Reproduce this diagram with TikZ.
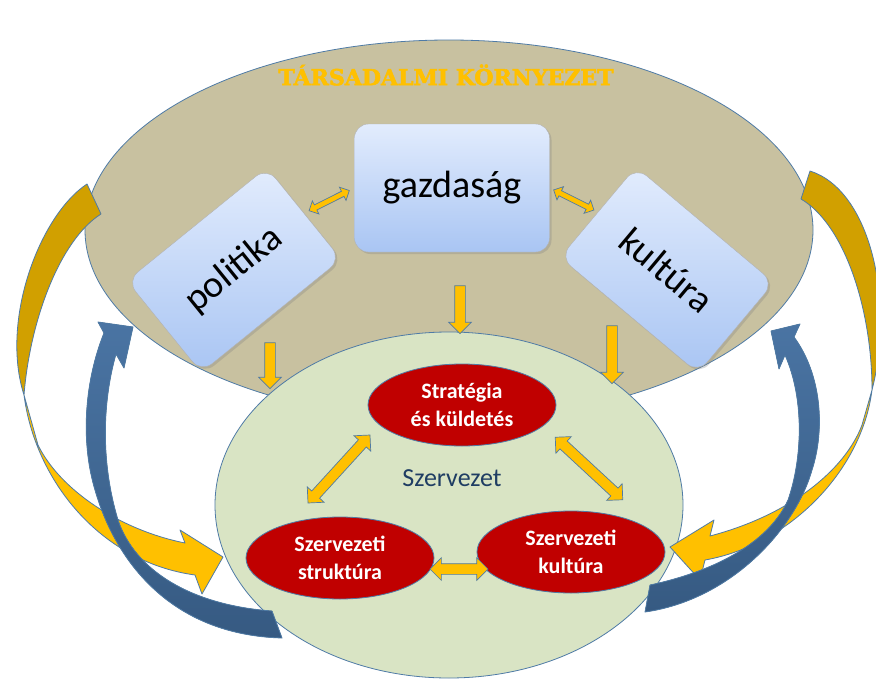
\documentclass[tikz,border=0pt]{standalone}
\usepackage{fontspec}
\setmainfont{Carlito}
\newfontfamily\titlefont{DejaVu Serif}[BoldFeatures={FakeBold=2.5}]
\usetikzlibrary{shapes.geometric,shapes.arrows,shadows}
\definecolor{envfill}{HTML}{C8C1A0}
\definecolor{orgfill}{HTML}{D9E4C4}
\definecolor{edgeblue}{HTML}{4F7BA6}
\definecolor{boxtop}{HTML}{E2ECFD}
\definecolor{boxbot}{HTML}{A9C5F3}
\definecolor{arrowyellow}{HTML}{FFC000}
\definecolor{darkgold}{HTML}{D1A000}
\definecolor{redfill}{HTML}{C00000}
\definecolor{blueA}{HTML}{4A74A3}
\definecolor{blueB}{HTML}{365A82}
\definecolor{orgtext}{HTML}{1F3D63}
\begin{document}
\begin{tikzpicture}[x=1pt,y=-1pt,
  envbox/.style={draw=gray!60, rounded corners=14pt, top color=boxtop, bottom color=boxbot,
    font=\fontsize{38}{38}\selectfont, inner sep=0pt,
    drop shadow={opacity=0.3, shadow xshift=2pt, shadow yshift=-2pt}},
  redell/.style={ellipse, draw=edgeblue, line width=0.8pt, fill=redfill, text=white,
    font=\bfseries\fontsize{22}{28}\selectfont, align=center,
    minimum width=188pt, minimum height=82pt, inner sep=0pt},
  dblarrow/.style={double arrow, draw=edgeblue, line width=0.7pt, fill=arrowyellow,
    inner xsep=0pt, minimum height=#1, sloped, allow upside down},
  bigdbl/.style={dblarrow=#1, inner ysep=5pt, double arrow head extend=6pt},
  smalldbl/.style={dblarrow=#1, inner ysep=2.5pt, double arrow head extend=4.5pt},
  downarr/.style={single arrow, draw=edgeblue, line width=0.7pt, fill=arrowyellow,
    inner xsep=0pt, inner ysep=5pt, single arrow head extend=6pt,
    minimum height=#1, sloped, allow upside down},
  bandline/.style={draw=edgeblue, line width=0.8pt, line join=round}
]
\useasboundingbox (0,0) rectangle (876,680);
\fill[white] (0,0) rectangle (876,680);

% environment ellipse
\node[ellipse, draw=edgeblue, line width=0.8pt, fill=envfill, minimum width=728pt,
  minimum height=380pt, inner sep=0pt] (env) at (449,230) {};
\node[text=arrowyellow, font=\titlefont\bfseries\fontsize{22}{22}\selectfont] (title)
  at (446,75) {TÁRSADALMI KÖRNYEZET};

% organisation ellipse
\node[ellipse, draw=edgeblue, line width=0.8pt, fill=orgfill, minimum width=468pt,
  minimum height=346pt, inner sep=0pt] (org) at (449,505) {};

% left gold curved arrow
\filldraw[bandline, fill=darkgold] (87,184) .. controls (40,215) and (0,320) .. (24,395)
  .. controls (30,320) and (60,240) .. (101,214) -- cycle;
\filldraw[bandline, fill=arrowyellow] (24,395) .. controls (35,480) and (100,562) .. (195,575)
  -- (202,594) -- (223,557) -- (180,530) -- (185,543)
  .. controls (120,530) and (60,490) .. (38,445) -- cycle;
% right gold curved arrow
\filldraw[bandline, fill=darkgold] (810,171) .. controls (870,190) and (895,300) .. (872,390)
  .. controls (872,310) and (845,225) .. (801,199) -- cycle;
\filldraw[bandline, fill=arrowyellow] (872,390) .. controls (862,470) and (790,545) .. (705,560)
  -- (700,580) -- (670,547) -- (714,520) -- (710,536)
  .. controls (790,515) and (845,470) .. (862,425) -- cycle;
% left blue curved arrow
\filldraw[bandline, top color=blueA, bottom color=blueB] (282,638)
  .. controls (170,635) and (115,560) .. (95,490)
  .. controls (80,440) and (85,380) .. (104,333)
  -- (98,322) -- (133,327) -- (124,368) -- (116,354)
  .. controls (103,400) and (100,460) .. (118,520)
  .. controls (135,570) and (190,605) .. (272,611) -- cycle;
% right blue curved arrow
\filldraw[bandline, top color=blueA, bottom color=blueB] (645,612)
  .. controls (730,600) and (795,530) .. (812,470)
  .. controls (825,430) and (822,375) .. (794,337)
  -- (800,324) -- (771,331) -- (779,369) -- (785,355)
  .. controls (805,400) and (802,460) .. (788,500)
  .. controls (770,540) and (720,570) .. (650,585) -- cycle;

% environment boxes
\node[envbox, minimum width=195pt, minimum height=128pt] (gaz) at (452,188) {gazdaság};
\node[envbox, minimum width=180pt, minimum height=118pt, rotate=39] (pol) at (234,270) {politika};
\node[envbox, minimum width=180pt, minimum height=118pt, rotate=-40] (kul) at (667,270) {kultúra};

\path (pol.east) -- (gaz.west) node[midway, smalldbl=45pt] (a1) {};
\path (gaz.east) -- (kul.west) node[midway, smalldbl=45pt] (a2) {};

% influence arrows
\coordinate (d1s) at (270,340); \coordinate (d1e) at (270,386);
\coordinate (d2s) at (460,283); \coordinate (d2e) at (460,331);
\coordinate (d3s) at (612,323); \coordinate (d3e) at (612,381);
\path (d1s) -- (d1e) node[midway, downarr=46pt] (b1) {};
\path (d2s) -- (d2e) node[midway, downarr=48pt] (b2) {};
\path (d3s) -- (d3e) node[midway, downarr=58pt] (b3) {};

% organisation elements
\node[redell] (strat) at (462,405) {Stratégia\\és küldetés};
\node[redell] (struk) at (340,558) {Szervezeti\\struktúra};
\node[redell] (okul) at (571,552) {Szervezeti\\kultúra};
\node[text=orgtext, font=\fontsize{26}{26}\selectfont] (szerv) at (452,478) {Szervezet};

\coordinate (c1) at (308,503); \coordinate (c2) at (370,435);
\coordinate (c3) at (555,437); \coordinate (c4) at (623,500);
\coordinate (c5) at (430,569); \coordinate (c6) at (488,569);
\path (c1) -- (c2) node[midway, bigdbl=92pt] (e1) {};
\path (c3) -- (c4) node[midway, bigdbl=92pt] (e2) {};
\path (c5) -- (c6) node[midway, bigdbl=58pt] (e3) {};
\end{tikzpicture}
\end{document}
